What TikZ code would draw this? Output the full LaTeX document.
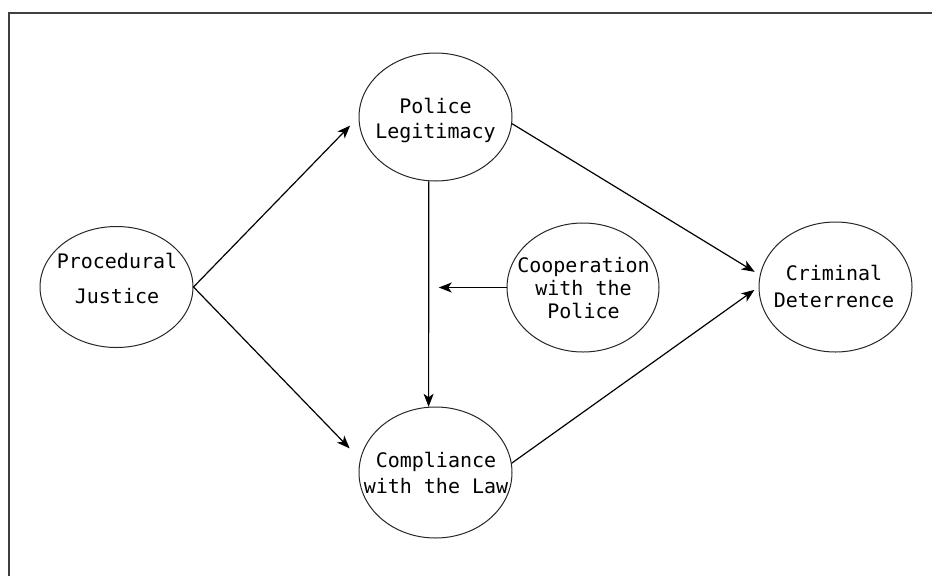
\documentclass[tikz,border=0pt]{standalone}
\usepackage{fontspec}
\setmonofont{DejaVu Sans Mono}
\usetikzlibrary{arrows.meta,shapes.geometric}
\begin{document}
\begin{tikzpicture}[x=1pt,y=-1pt,
  oval/.style={ellipse,draw=black!85,line width=1pt,inner sep=0pt},
  txt/.style={anchor=base,inner sep=0pt,font=\ttfamily\fontsize{20}{24}\selectfont},
  arr/.style={draw=black,line width=1.2pt,-{Stealth[length=13pt,width=10pt,inset=3.5pt]}}]
\useasboundingbox (0,0) rectangle (932,576);
\draw[line width=1.5pt,draw=black!75] (9,576) -- (9,13) -- (932,13);

\node[oval,minimum width=153pt,minimum height=121pt] (pj) at (116.5,287) {};
\node[oval,minimum width=153pt,minimum height=128pt] (pl) at (435.5,117) {};
\node[oval,minimum width=152pt,minimum height=129pt] (coop) at (583,287.5) {};
\node[oval,minimum width=153pt,minimum height=131pt] (cl) at (435.5,472.5) {};
\node[oval,minimum width=153pt,minimum height=130pt] (cd) at (835.5,287) {};

\node[txt] (pj1) at (117,268) {Procedural};
\node[txt] (pj2) at (117,303) {Justice};
\node[txt] (pl1) at (435.5,113) {Police};
\node[txt] (pl2) at (435.5,138) {Legitimacy};
\node[txt] (co1) at (583.5,272) {Cooperation};
\node[txt] (co2) at (583.5,295) {with the};
\node[txt] (co3) at (583.5,318) {Police};
\node[txt] (cl1) at (436,467) {Compliance};
\node[txt] (cl2) at (436,493) {with the Law};
\node[txt] (cd1) at (834,280) {Criminal};
\node[txt] (cd2) at (834,307) {Deterrence};

\draw[arr,shorten >=12pt] (pj.east) -- (pl.180);
\draw[arr,shorten >=15pt] (pj.east) -- (cl.170);
\draw[arr] (pl.264) -- (cl.96);
\draw[arr,shorten >=10pt] (coop.west) -- (coop.west -| pl.264);
\draw[arr,shorten >=6pt] (pl.-5) -- (cd.171);
\draw[arr,shorten >=5pt] (cl.7) -- (cd.180);
\end{tikzpicture}
\end{document}
